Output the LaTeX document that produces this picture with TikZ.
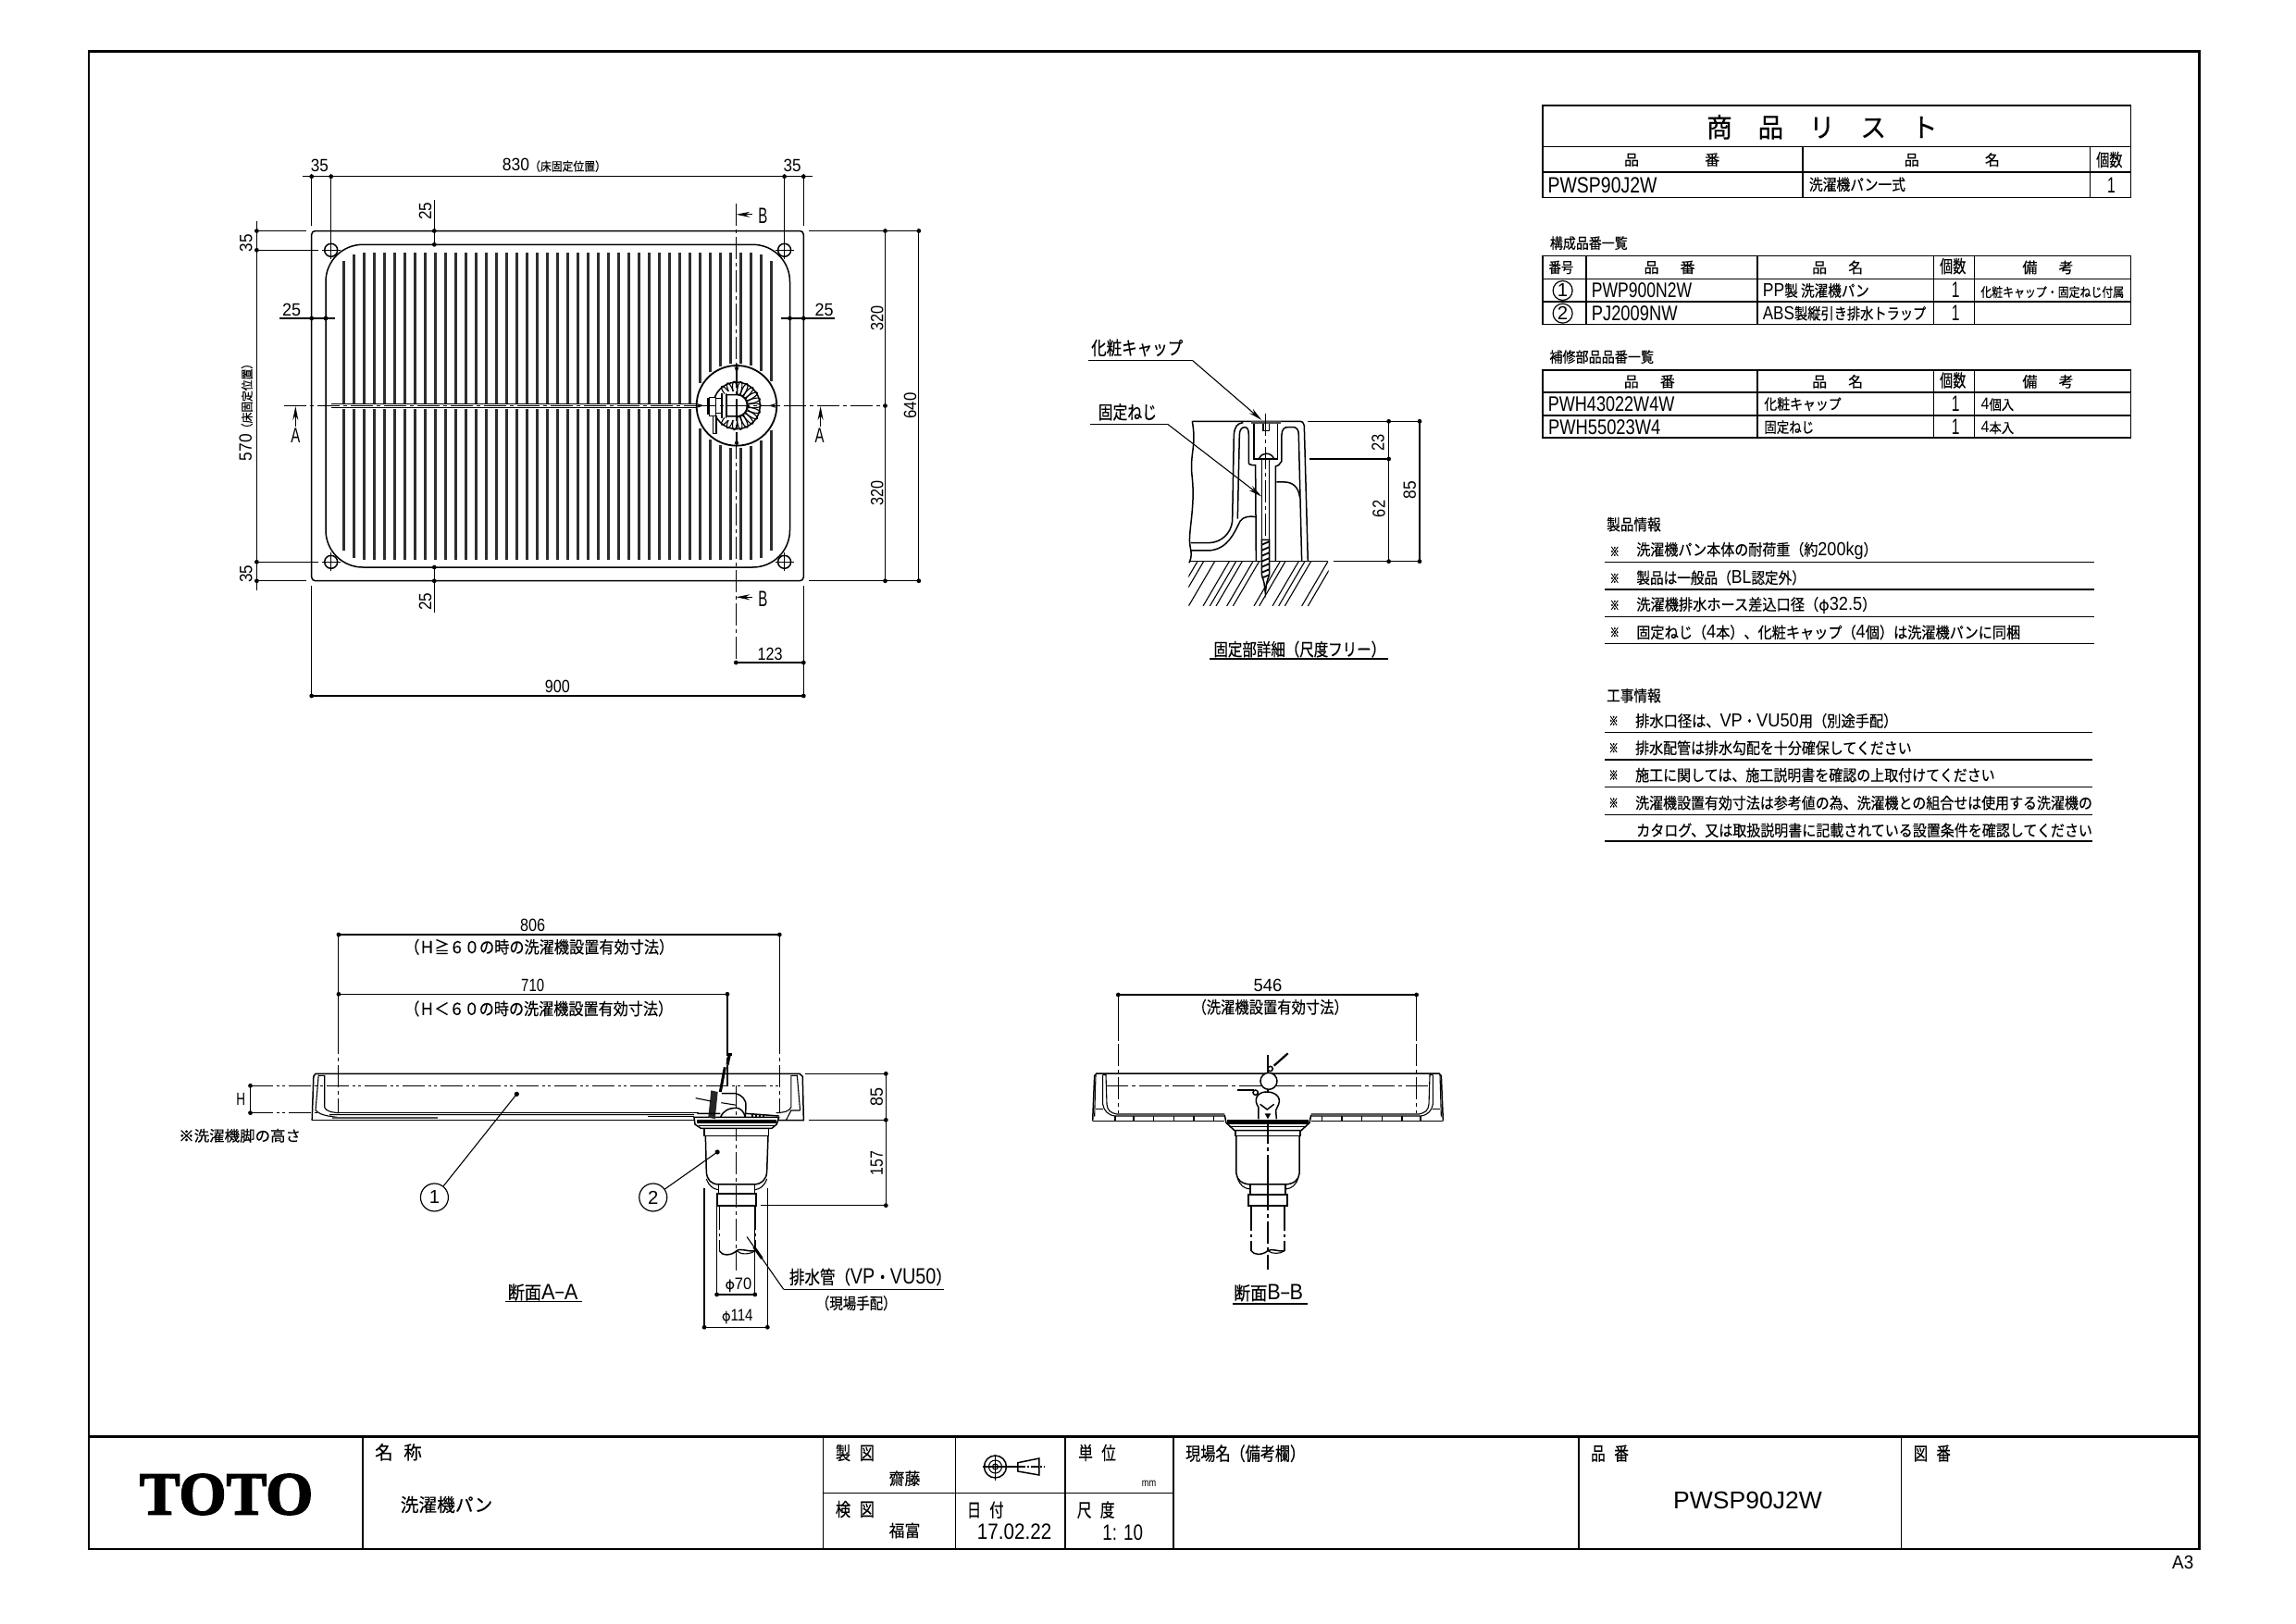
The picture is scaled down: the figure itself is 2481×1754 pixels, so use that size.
\documentclass[tikz,border=0pt]{standalone}
\usepackage{fontspec}
\usepackage{graphicx}
\usetikzlibrary{arrows.meta}
\setmainfont[FakeBold=0.4]{Noto Sans CJK JP}
\newfontfamily\kome[FakeBold=2.5]{Noto Sans CJK JP}
\newfontfamily\latf[Scale=1.2]{Liberation Sans}
\newfontfamily\totof[FakeBold=2.5]{Liberation Serif Bold}
\newcommand\Lt[1]{{\latf #1}}
\newcounter{tc}
\newlength\tw
\newcommand\kx{1}
\newcommand\Tx[6][]{\stepcounter{tc}\setlength\tw{\kx\dimexpr #5bp\relax}\node[inner sep=0pt,anchor=#2,#1] (t\arabic{tc}) at (#3) {\resizebox{\tw}{\height}{\fontsize{#4}{#4}\selectfont #6}};}
\newcommand\Dm[4][]{\Tx[#1]{center}{#2}{16}{#3}{\Lt{#4}}}
\newcommand\Dt[1]{\fill (#1) circle[radius=2.4bp];}
\tikzset{
  dm/.style={line width=1.1bp},
  ol/.style={line width=1.5bp},
  tb/.style={line width=1.6bp},
  frm/.style={line width=2.6bp},
  cl/.style={line width=1.1bp,dash pattern=on 24bp off 4bp on 4bp off 4bp},
  hd/.style={line width=1.1bp,dash pattern=on 24bp off 4bp on 3bp off 3bp on 3bp off 4bp},
  lead/.style={line width=1.1bp,-{Stealth[length=15bp,width=6bp]}},
  sm/.style={line width=1.1bp,-{Stealth[length=8bp,width=5bp]}},
  cn/.style={draw,circle,inner sep=0pt,line width=1.2bp,font=\fontsize{17}{17}\selectfont}
}
\newcommand\BSide{
  \draw[ol] (62,484) -- (68,338) -- (75,330) -- (630,330);
  \draw[ol] (62,484) -- (490,484);
  \draw[dm] (72,335) -- (68,470);
  \draw[dm] (95,335) -- (105,335) -- (108,430) .. controls (110,450) and (120,458) .. (140,462) -- (490,462);
  \draw[dm] (95,335) -- (95,430) .. controls (98,450) and (112,466) .. (135,468) -- (490,468);
  \draw[dm] (72,445) -- (95,445);
  \foreach \k in {135,195,260,325,390,455} {\draw[ol] (\k,468) -- (\k,482);}
  \draw[ol] (490,465) -- (495,490) -- (522,515) -- (630,515);
  \fill (497,480) rectangle (630,495);
  \draw[dm] (505,503) -- (630,503);
  \draw[ol] (525,515) -- (525,532) -- (630,532);
  \draw[ol] (528,532) -- (528,655) .. controls (530,675) and (545,688) .. (572,690) -- (630,690);
  \draw[dm] (532,670) .. controls (540,695) and (555,703) .. (572,705);
  \draw[ol] (573,690) -- (573,722);
  \draw[line width=2.2bp] (567,722) rectangle (630,760);
  \draw[dm,dash pattern=on 26bp off 4bp on 3bp off 4bp] (576,762) -- (576,905);
}
\begin{document}
\begin{tikzpicture}[x=1bp,y=-1bp]
\fill[white] (0,0) rectangle (2481,1754);
\useasboundingbox (0,0) rectangle (2481,1754);
% ---------- frame
\draw[frm] (96,55.4) rectangle (2376.6,1674);
\draw[frm] (96,1552.7) -- (2376.6,1552.7);
\foreach \v in {392,889.5,1032.6,1151,1268,1706,2054.6} {\draw[tb] (\v,1552.7) -- (\v,1674);}
\draw[tb] (889.5,1613.3) -- (1268,1613.3);
% ---------- top view
\foreach \i in {0,...,42} {
  \pgfmathsetmacro\xx{371.7+10.99*\i}
  \pgfmathsetmacro\ya{(\i==0||\i==42)?282.3:((\i==1||\i==41)?275:273.3)}
  \pgfmathsetmacro\yb{(\i==0||\i==42)?595:((\i==1||\i==41)?602.7:605)}
  \pgfmathsetmacro\dx{min(abs(\xx-795.5),46)}
  \pgfmathsetmacro\hh{\dx<46?sqrt(46*46-\dx*\dx):3}
  \fill[black!82] (\xx-1.5,\ya) rectangle (\xx+1.5,438.5-\hh);
  \fill[black!82] (\xx-1.5,438.5+\hh) rectangle (\xx+1.5,\yb);
}
\draw[ol,rounded corners=4bp] (336.7,249.5) rectangle (868.3,627.7);
\draw[ol,rounded corners=40bp] (352,264.3) rectangle (853.5,613);
\foreach \p in {357.7,847.6} {\foreach \q in {270.3,607.3} {
  \draw[ol] (\p,\q) circle[radius=7bp];
  \draw[dm] (\p-10,\q) -- (\p+10,\q) (\p,\q-10) -- (\p,\q+10);
}}
% channel
\draw[dm] (357.6,436.4) -- (752,436.4) (357.6,440.6) -- (752,440.6);
% extension / dimension lines
\draw[dm] (327,190.7) -- (878,190.7);
\draw[dm] (336.7,187.5) -- (336.7,244) (357.7,187.5) -- (357.7,262) (847.6,187.5) -- (847.6,262) (868.3,187.5) -- (868.3,244);
\foreach \p in {336.7,357.7,847.6,868.3} {\Dt{\p,190.7}}
\draw[dm] (277.4,249.5) -- (330.5,249.5) (874,249.5) -- (992.8,249.5) (277.4,627.7) -- (330.5,627.7) (874,627.7) -- (992.8,627.7);
\draw[dm] (277.4,239) -- (277.4,638);
\draw[dm] (277.4,270.3) -- (344,270.3) (277.4,607.3) -- (344,607.3);
\foreach \q in {249.5,270.3,607.3,627.7} {\Dt{277.4,\q}}
\draw[dm] (469.3,216.4) -- (469.3,264.3) (469.3,613) -- (469.3,662);
\foreach \q in {249.5,264.3,613,627.7} {\Dt{469.3,\q}}
\draw[dm] (302.4,344) -- (361.6,344) (843.8,344) -- (902.4,344);
\foreach \p in {336.7,352,853.5,868.3} {\Dt{\p,344}}
\draw[dm] (956.5,249.5) -- (956.5,627.7) (992.8,249.5) -- (992.8,627.7);
\foreach \q in {249.5,438.5,627.7} {\Dt{956.5,\q}}
\Dt{992.8,249.5} \Dt{992.8,627.7}
\draw[dm] (336.7,633) -- (336.7,752) (868.3,633) -- (868.3,752) (336.7,752) -- (868.3,752);
\Dt{336.7,752} \Dt{868.3,752}
\draw[dm] (795.3,716) -- (868.3,716);
\Dt{795.3,716} \Dt{868.3,716}
\draw[cl] (306.5,438.5) -- (956.5,438.5);
\draw[cl] (795.3,220) -- (795.3,716);
% section arrows
\draw[lead] (319.3,461) -- (319.3,439);
\draw[lead] (886.6,461) -- (886.6,439);
\draw[lead] (813,231.8) -- (795.3,231.8);
\draw[lead] (813,645.3) -- (795.3,645.3);
% drain plan
\begin{scope}[shift={(740,380)},x=0.3333bp,y=-0.3333bp]
  \fill[white] (168,175) circle[radius=130];
  \draw[line width=1.8bp] (168,175) circle[radius=130];
  \draw[ol] (168,175) circle[radius=76];
  \foreach \a in {-128,-112,...,128} {
    \draw[dm,rotate around={\a:(168,175)}] (225,175) ellipse[x radius=22,y radius=7];
  }
  \fill[white] (130,130) rectangle (170,222);
  \draw[ol,fill=white] (135,140) -- (170,140) .. controls (195,142) and (202,160) .. (202,175) .. controls (202,195) and (190,208) .. (170,210) -- (135,210) -- cycle;
  \draw[ol,fill=white] (80,148) rectangle (100,208);
  \draw[ol,fill=white] (100,152) rectangle (120,200);
  \draw[ol] (120,135) -- (120,215) (133,135) -- (133,215);
  \draw[ol,fill=white] (92,208) rectangle (102,265);
  \draw[line width=2bp] (76,150) -- (76,205);
  \draw[sm] (168,40) -- (168,72);
  \draw[sm] (168,305) -- (168,278);
  \draw[sm] (28,175) -- (62,175);
  \draw[sm] (298,175) -- (272,175);
  \draw[cl] (30,175) -- (300,175);
  \draw[cl] (168,45) -- (168,305);
\end{scope}
% texts top view
\Dm{345.3,178.5}{19}{35}
\Dm{856,178.5}{19}{35}
\Tx{center}{598.9,178.5}{16}{112}{\Lt{830}{\fontsize{13}{13}\selectfont （床固定位置）}}
\Dm[rotate=90]{265.7,262.6}{19}{35}
\Dm[rotate=90]{265.7,620.4}{19}{35}
\Tx[rotate=90]{center}{265.7,442.5}{16}{111}{\Lt{570}{\fontsize{13}{13}\selectfont （床固定位置）}}
\Dm[rotate=90]{459.6,228.3}{19}{25}
\Dm[rotate=90]{459.6,650}{19}{25}
\Dm{315,334.6}{20}{25}
\Dm{890.7,334.6}{20}{25}
\Dm[rotate=90]{947.9,343.7}{27}{320}
\Dm[rotate=90]{947.9,532.6}{27}{320}
\Dm[rotate=90]{983.6,438.5}{28}{640}
\Dm{602.4,742}{27}{900}
\Dm{832,706.5}{27}{123}
\Tx{center}{319.3,471}{19}{10}{\Lt{A}}
\Tx{center}{885.7,471}{19}{10}{\Lt{A}}
\Tx{center}{824.4,233}{20}{10}{\Lt{B}}
\Tx{center}{824.4,646.8}{20}{10}{\Lt{B}}
% ---------- detail view
\begin{scope}[shift={(1150,350)},x=0.3333bp,y=-0.3333bp]
  \renewcommand\kx{0.3333}
  \begin{scope}
    \clip (403,770) rectangle (857,915);
    \foreach \t in {432,452,488,535,557,577,612,632,700,717,760,780,800,855,875,945} {\draw[dm] (\t,770) -- (\t-85,915);}
  \end{scope}
  \draw[ol] (405,770) -- (855,770);
  \draw[ol] (415,316) -- (765,316) .. controls (773,317) .. (778,330) -- (790,770);
  \draw[ol] (415,316) .. controls (430,400) and (405,420) .. (415,500) .. controls (425,600) and (400,680) .. (408,720) .. controls (412,745) and (415,750) .. (405,775);
  \draw[ol] (580,320) .. controls (560,322) and (552,335) .. (550,360) -- (545,640) .. controls (540,680) and (510,708) .. (470,710) -- (410,710);
  \draw[ol] (410,735) -- (470,735) .. controls (530,730) and (550,680) .. (570,640) .. controls (580,625) and (600,622) .. (622,626);
  \draw[ol] (562,632) -- (568,360) .. controls (568,345) and (575,335) .. (585,335) .. controls (595,335) and (598,345) .. (598,360) -- (598,445) .. controls (598,455) .. (610,458) -- (620,458) -- (622,770);
  \draw[ol] (685,770) -- (685,462) -- (695,458) -- (705,445) -- (705,360) .. controls (706,342) and (712,335) .. (725,335) -- (745,335) .. controls (755,337) and (760,345) .. (760,360) -- (770,770);
  \draw[ol] (688,513) -- (715,513) .. controls (740,513) and (760,530) .. (763,560);
  \draw[ol] (615,325) -- (615,437) (692,325) -- (692,437);
  \draw[line width=2.2bp] (612,437) -- (692,437);
  \draw[ol] (632,437) .. controls (640,415) and (670,415) .. (680,437);
  \fill[black!70] (605,316) rectangle (703,325);
  \draw[ol] (645,325) -- (645,347) -- (665,347) -- (665,325);
  \draw[ol] (640,440) -- (640,770) (665,440) -- (665,770);
  \draw[ol,fill=white] (640,700) -- (665,700) -- (665,812) -- (656,840) -- (652,872) -- (648,840) -- (640,812) -- cycle;
  \foreach \q in {716,734,752,770,788,806,824} {\draw[line width=1.8bp] (641,\q) -- (664,\q-10);}
  \draw[cl] (652,290) -- (652,700);
  \draw[dm] (78,118) -- (415,118);
  \draw[lead] (415,118) -- (640,312);
  \draw[dm] (85,325) -- (335,325);
  \draw[lead] (335,325) -- (640,560);
  \draw[dm] (790,316) -- (1152,316) (795,438) -- (1052,438) (873,770) -- (1152,770);
  \draw[dm] (1052,316) -- (1052,770) (1152,316) -- (1152,770);
  \Dt{1052,316} \Dt{1052,438} \Dt{1052,770} \Dt{1152,316} \Dt{1152,770}
  \Dm[rotate=90]{1017,385}{55}{23}
  \Dm[rotate=90]{1020,600}{55}{62}
  \Dm[rotate=90]{1120,540}{58}{85}
  \Tx{center}{236,78}{20}{297}{化粧キャップ}
  \Tx{center}{205,286}{20}{190}{固定ねじ}
  \Tx{center}{763,1055}{19}{557}{固定部詳細（尺度フリー）}
  \draw[dm] (470,1086) -- (1050,1086);
\end{scope}
% ---------- section A-A (left)
\begin{scope}[shift={(180,1000)},x=0.542bp,y=-0.3333bp]
  \renewcommand\kx{0.542}
  \draw[dm] (343,30) -- (1222,30) (343,223) -- (1118,223);
  \Dt{343,30} \Dt{1222,30} \Dt{343,223} \Dt{1118,223}
  \draw[dm] (343,30) -- (343,345) (1222,30) -- (1222,345) (1118,223) -- (1118,345);
  \draw[cl] (343,345) -- (343,610) (1222,345) -- (1222,605) (1118,345) -- (1118,520);
  \draw[ol] (290,632) -- (293,490) -- (297,481) -- (1262,481) -- (1268,490) -- (1270,632) -- (1218,632);
  \draw[ol] (290,632) -- (1052,632);
  \draw[dm] (303,485) -- (297,600) (303,487) -- (315,487) -- (315,590) .. controls (318,602) and (328,607) .. (345,608);
  \draw[ol] (345,608) -- (1060,608);
  \draw[dm] (325,614) -- (1052,614) (297,600) .. controls (305,612) and (315,618) .. (340,622);
  \draw[line width=2bp,black!70] (330,623) -- (540,623);
  \draw[dm] (1257,485) -- (1263,600) (1257,487) -- (1245,487) -- (1245,590) .. controls (1242,602) and (1232,607) .. (1215,608);
  \draw[dm] (1235,632) -- (1245,600) -- (1263,600);
  \draw[hd] (167,520) -- (1220,520);
  \draw[hd] (167,608) -- (300,608);
  \draw[dm] (167,520) -- (167,608);
  \Dt{167,520} \Dt{167,608}
  \node[cn,minimum size=30bp] (c1) at (534,882) {\Lt{1}};
  \node[cn,minimum size=30bp] (c2) at (970,882) {\Lt{2}};
  \coordinate (p1) at (698,547);
  \coordinate (p2) at (1098,735);
  \fill (p1) circle[radius=2.6bp];
  \fill (p2) circle[radius=2.6bp];
  \draw[dm] (c1) -- (p1);
  \draw[dm] (c2) -- (p2);
  % phi dims
  \draw[dm] (1072,852) -- (1072,1303) (1198,852) -- (1198,1303) (1072,1303) -- (1198,1303);
  \draw[dm] (1097,910) -- (1097,1197) (1173,910) -- (1173,1197) (1097,1197) -- (1173,1197);
  \Dt{1072,1303} \Dt{1198,1303} \Dt{1097,1197} \Dt{1173,1197}
  \draw[cl] (1136,520) -- (1136,1120);
  \draw[dm] (1230,1180) -- (1157,1010);
  \draw[line width=3bp] (1171,1043) -- (1187,1080);
  \draw[dm] (1230,1180) -- (1550,1180);
  \Dm{730,0}{50}{806}
  \Dm{730,195}{46}{710}
  \Tx{center}{743,70}{18}{537}{（Ｈ≧６０の時の洗濯機設置有効寸法）}
  \Tx{center}{742,270}{18}{535}{（Ｈ＜６０の時の洗濯機設置有効寸法）}
  \Dm{148,565}{18}{H}
  \Tx{center}{146,682}{16}{243}{{\kome ※}洗濯機脚の高さ}
  \Tx{center}{1403,1140}{20}{323}{排水管（\Lt{VP}・\Lt{VU50}）}
  \Tx{center}{1375,1225}{17}{160}{（現場手配）}
  \Tx{center}{750,1190}{20}{140}{断面\Lt{A}−\Lt{A}}
  \draw[dm] (675,1220) -- (828,1220);
  \Tx{center}{1140,1165}{15}{53}{φ\Lt{70}}
  \Tx{center}{1138,1268}{15}{62}{φ\Lt{114}}
\end{scope}
% ---------- drain A-A
\begin{scope}[shift={(700,1120)},x=0.3333bp,y=-0.3333bp]
  \renewcommand\kx{0.3333}
  \draw[ol,fill=white] (150,262) -- (153,285) -- (172,298) -- (402,298) -- (418,285) -- (425,262) -- cycle;
  \fill (158,270) rectangle (418,282);
  \draw[ol] (165,290) -- (410,290);
  \draw[ol] (183,298) -- (183,322) -- (392,322) -- (392,298);
  \draw[ol] (187,322) -- (190,440) .. controls (192,465) and (205,478) .. (228,480) -- (348,480) .. controls (368,478) and (384,465) .. (386,440) -- (390,322);
  \draw[dm] (190,462) .. controls (198,485) and (212,495) .. (228,497);
  \draw[dm] (386,462) .. controls (378,485) and (364,495) .. (348,497);
  \draw[ol] (230,480) -- (230,512) (346,480) -- (346,512);
  \draw[line width=2.2bp] (225,510) rectangle (350,548);
  \draw[dm,dash pattern=on 26bp off 4bp on 3bp off 4bp] (232,550) -- (232,695) (348,550) -- (348,695);
  \draw[ol] (232,695) .. controls (240,712) and (270,712) .. (288,695) .. controls (300,685) and (330,700) .. (348,695);
  \draw[dm] (288,695) .. controls (300,708) and (330,708) .. (348,695);
  % fixture
  \draw[line width=3.2bp] (265,58) -- (258,92);
  \draw[line width=3bp] (250,100) -- (235,180);
  \draw[dm,fill=white] (258,55) rectangle (272,60);
  \fill[black!85] (205,175) -- (227,180) -- (218,268) -- (196,262) -- cycle;
  \draw[ol] (240,185) -- (285,185) .. controls (305,190) and (320,205) .. (318,228) -- (316,262);
  \draw[ol] (236,262) .. controls (245,240) and (262,232) .. (290,232) .. controls (303,235) and (312,245) .. (316,262);
  \draw[dm] (155,200) -- (205,210) (238,215) -- (288,223);
  \draw[line width=2.2bp] (340,265) -- (340,252) (352,265) -- (352,252) (364,265) -- (364,252) (376,265) -- (376,252);
  \draw[dm] (0,260) -- (150,260);
  \draw[ol] (160,250) -- (235,250) (318,250) -- (425,258);
  \draw[dm] (510,121) -- (772,121) (522,271) -- (772,271) (365,548) -- (772,548) (772,121) -- (772,548);
  \Dt{772,121} \Dt{772,271} \Dt{772,548}
  \Dm[rotate=90]{742,195}{60}{85}
  \Dm[rotate=90]{742,412}{80}{157}
\end{scope}
% ---------- section B-B
\begin{scope}[shift={(1160,1050)},x=0.3333bp,y=-0.3333bp]
  \renewcommand\kx{0.3333}
  \BSide
\end{scope}
\begin{scope}[shift={(1580,1050)},x=-0.3333bp,y=-0.3333bp]
  \BSide
\end{scope}
\begin{scope}[shift={(1160,1050)},x=0.3333bp,y=-0.3333bp]
  \renewcommand\kx{0.3333}
  \draw[dm] (145,75) -- (1112,75);
  \Dt{145,75} \Dt{1112,75}
  \draw[dm] (145,75) -- (145,225) (1112,75) -- (1112,225);
  \draw[cl] (145,235) -- (145,460) (1112,235) -- (1112,460);
  \draw[cl] (105,370) -- (1150,370);
  \draw[cl] (630,270) -- (630,965);
  \draw[line width=2.4bp] (630,650) -- (630,712);
  \draw[ol] (576,905) .. controls (585,920) and (612,920) .. (630,905) .. controls (640,896) and (670,910) .. (684,905);
  \draw[dm] (630,905) .. controls (642,916) and (672,916) .. (684,905);
  % fixture
  \draw[ol,fill=white] (600,478) -- (600,440) .. controls (582,415) and (595,392) .. (622,390) .. controls (650,388) and (675,405) .. (665,430) -- (656,450) -- (658,478);
  \draw[ol,fill=white] (633,355) circle[radius=27];
  \draw[ol,fill=white] (638,315) circle[radius=8];
  \draw[line width=2.2bp] (650,305) -- (695,265);
  \draw[line width=2.2bp] (530,385) -- (585,385);
  \draw[ol,fill=white] (590,392) circle[radius=8];
  \draw[ol] (605,430) -- (628,447) -- (650,430);
  \fill (620,460) -- (640,460) -- (630,478) -- cycle;
  \Dm{630,45}{92}{546}
  \Tx{center}{638,115}{18}{505}{（洗濯機設置有効寸法）}
  \Tx{center}{632,1042}{20}{225}{断面\Lt{B}−\Lt{B}}
  \draw[dm] (515,1077) -- (760,1077);
\end{scope}
% ---------- tables
\begin{scope}[shift={(1660,100)},x=0.4337bp,y=-0.3333bp]
  \renewcommand\kx{0.4337}
  \draw[tb] (16,42) rectangle (1481,340);
  \draw[tb] (16,175) -- (1481,175) (16,258) -- (1481,258) (664,175) -- (664,340) (1380,175) -- (1380,340);
  \Tx{center}{712,112}{29}{575}{商　品　リ　ス　ト}
  \Tx{center}{338,218}{16}{238}{品\hspace{71bp}番}
  \Tx{center}{1036,218}{16}{238}{品\hspace{71bp}名}
  \Tx{center}{1428,218}{19}{65}{個数}
  \Tx{center}{165,300}{20}{272}{\Lt{PWSP90J2W}}
  \Tx{center}{800,298}{17}{240}{洗濯機パン一式}
  \Tx{center}{1433,300}{20}{20}{\Lt{1}}
  \Tx{center}{131,488}{16}{193}{構成品番一覧}
  \draw[tb] (16,530) rectangle (1481,752);
  \draw[tb] (16,604) -- (1481,604) (16,678) -- (1481,678);
  \foreach \v in {124,551,990,1092} {\draw[tb] (\v,530) -- (\v,752);}
  \Tx{center}{62,567}{16}{61}{番号}
  \Tx{center}{332,567}{16}{127}{品\hspace{23bp}番}
  \Tx{center}{751,567}{16}{127}{品\hspace{23bp}名}
  \Tx{center}{1038,563}{19}{65}{個数}
  \Tx{center}{1275,567}{16}{127}{備\hspace{23bp}考}
  \node[cn,minimum size=21bp] (r1) at (66,642) {\Lt{1}};
  \node[cn,minimum size=21bp] (r2) at (66,716) {\Lt{2}};
  \Tx{center}{263,642}{19}{250}{\Lt{PWP900N2W}}
  \Tx{center}{697,642}{17}{265}{\Lt{PP}製 洗濯機パン}
  \Tx{center}{1045,640}{20}{20}{\Lt{1}}
  \Tx{center}{1286,647}{14}{357}{化粧キャップ・固定ねじ付属}
  \Tx{center}{245,716}{19}{214}{\Lt{PJ2009NW}}
  \Tx{center}{768,716}{17}{407}{\Lt{ABS}製縦引き排水トラップ}
  \Tx{center}{1045,714}{20}{20}{\Lt{1}}
  \Tx{center}{163,857}{16}{260}{補修部品品番一覧}
  \draw[tb] (16,900) rectangle (1481,1120);
  \draw[tb] (16,973) -- (1481,973) (16,1047) -- (1481,1047);
  \foreach \v in {551,990,1092} {\draw[tb] (\v,900) -- (\v,1120);}
  \Tx{center}{282,937}{16}{127}{品\hspace{23bp}番}
  \Tx{center}{751,937}{16}{127}{品\hspace{23bp}名}
  \Tx{center}{1038,933}{19}{65}{個数}
  \Tx{center}{1275,937}{16}{127}{備\hspace{23bp}考}
  \Tx{center}{187,1010}{19}{315}{\Lt{PWH43022W4W}}
  \Tx{center}{664,1010}{16}{192}{化粧キャップ}
  \Tx{center}{1045,1010}{20}{20}{\Lt{1}}
  \Tx{center}{1149,1012}{15}{82}{\Lt{4}個入}
  \Tx{center}{170,1085}{19}{280}{\Lt{PWH55023W4}}
  \Tx{center}{630,1085}{16}{124}{固定ねじ}
  \Tx{center}{1045,1085}{20}{20}{\Lt{1}}
  \Tx{center}{1149,1087}{15}{82}{\Lt{4}本入}
\end{scope}
% ---------- info
\begin{scope}[shift={(1700,540)},x=0.3827bp,y=-0.3333bp]
  \renewcommand\kx{0.3827}
  \Tx{center}{171,80}{17}{153}{製品情報}
  \foreach \q in {203,291,379,467} {\draw[tb] (90,\q) -- (1470,\q);}
  \foreach \q in {168,255,342,430} {\Tx{center}{117,\q}{14}{26}{\kome ※}}
  \Tx{west}{178,165}{17}{680}{洗濯機パン本体の耐荷重（約\Lt{200kg}）}
  \Tx{west}{178,253}{17}{477}{製品は一般品（\Lt{BL}認定外）}
  \Tx{west}{178,342}{17}{677}{洗濯機排水ホース差込口径（φ\Lt{32.5}）}
  \Tx{west}{178,430}{17}{1084}{固定ねじ（\Lt{4}本）、化粧キャップ（\Lt{4}個）は洗濯機パンに同梱}
  \Tx{center}{171,635}{17}{153}{工事情報}
  \foreach \q in {755,843,932,1022,1108} {\draw[tb] (90,\q) -- (1467,\q);}
  \foreach \q in {717,805,893,983} {\Tx{center}{114,\q}{14}{26}{\kome ※}}
  \Tx{west}{175,717}{17}{740}{排水口径は、\Lt{VP}・\Lt{VU50}用（別途手配）}
  \Tx{west}{175,805}{17}{780}{排水配管は排水勾配を十分確保してください}
  \Tx{west}{175,893}{17}{1015}{施工に関しては、施工説明書を確認の上取付けてください}
  \Tx{west}{175,983}{17}{1290}{洗濯機設置有効寸法は参考値の為、洗濯機との組合せは使用する洗濯機の}
  \Tx{west}{178,1072}{17}{1287}{カタログ、又は取扱説明書に記載されている設置条件を確認してください}
\end{scope}
% ---------- title block texts
\begin{scope}[shift={(90,1550)},x=0.7651bp,y=-0.3333bp]
  \renewcommand\kx{0.7651}
  \Tx{center}{202,195}{66}{245}{\totof TOTO}
  \Tx{center}{445,58}{20}{66}{名\hspace{12bp}称}
  \Tx{center}{513,228}{20}{130}{洗濯機パン}
  \Tx{center}{1090,60}{20}{55}{製\hspace{12bp}図}
  \Tx{center}{1160,143}{18}{44}{齋藤}
  \Tx{center}{1090,243}{20}{55}{検\hspace{12bp}図}
  \Tx{center}{1160,312}{18}{44}{福富}
  \Tx{center}{1432,60}{20}{53}{単\hspace{12bp}位}
  \Tx{center}{1505,160}{10}{20}{\Lt{mm}}
  \Tx{center}{1274,245}{20}{52}{日\hspace{12bp}付}
  \Tx{center}{1315,315}{20}{105}{\Lt{17.02.22}}
  \Tx{center}{1430,245}{20}{53}{尺\hspace{12bp}度}
  \Tx{center}{1468,320}{20}{57}{\Lt{1: 10}}
  % projection symbol
  \draw[dm] (1288,65) -- (1288,150) (1270,105) -- (1305,105);
  \draw[ol] (1288,105) circle[radius=12bp];
  \draw[dm] (1288,105) circle[radius=7bp];
  \draw[dm] (1288,105) circle[radius=3bp];
  \draw[ol] (1320,92) -- (1350,78) -- (1350,132) -- (1320,120) -- cycle;
  \draw[dm] (1300,105) -- (1320,105);
  \draw[dm,dash pattern=on 8bp off 2bp on 2bp off 2bp] (1320,105) -- (1358,105);
\end{scope}
\begin{scope}[shift={(1270,1550)},x=0.7722bp,y=-0.3333bp]
  \renewcommand\kx{0.7722}
  \Tx{center}{98,62}{20}{167}{現場名（備考欄）}
  \Tx{center}{608,62}{20}{53}{品\hspace{12bp}番}
  \Tx{center}{801,215}{22}{208}{\Lt{PWSP90J2W}}
  \Tx{center}{1059,62}{20}{52}{図\hspace{12bp}番}
  \Tx{center}{1410,415}{17}{30}{\Lt{A3}}
\end{scope}
\end{tikzpicture}
\end{document}
